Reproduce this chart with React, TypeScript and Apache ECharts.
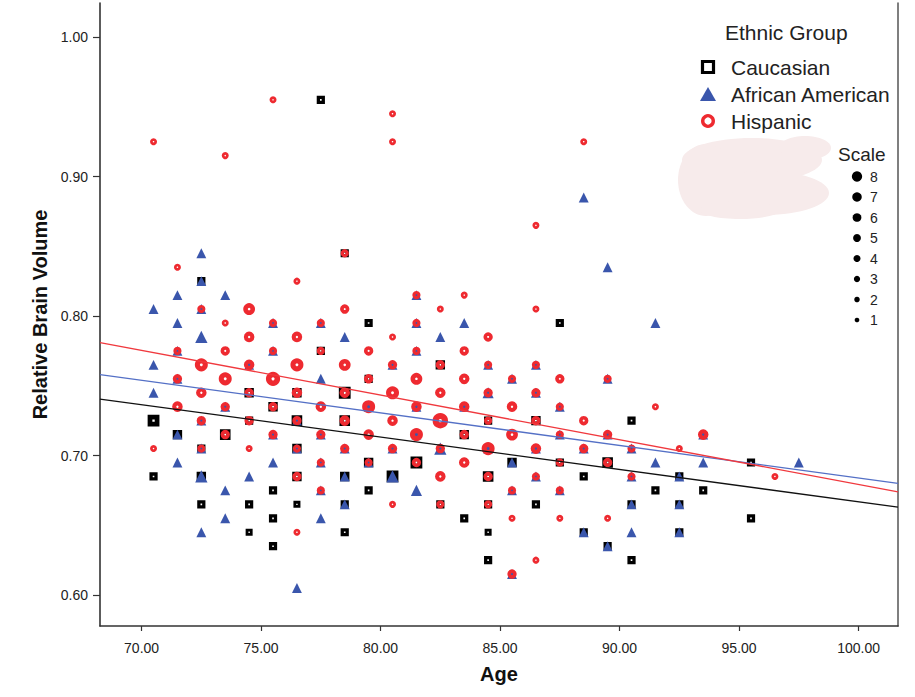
import React, { useEffect, useRef } from "react";
import * as echarts from "echarts";

// ---------- data ----------
const groupNames = ["Caucasian", "African American", "Hispanic"];
const groupColors = ["#000000", "#3A56AC", "#EE2A30"];
const fitColors = ["#111111", "#5470C6", "#F0393E"];

// [age, relative brain volume, scale]
const caucasian: number[][] = [
  [77.5, 0.955, 2], [72.5, 0.825, 2], [78.5, 0.845, 2], [79.5, 0.795, 2], [87.5, 0.795, 2],
  [77.5, 0.775, 2], [82.5, 0.765, 3], [79.5, 0.755, 2], [74.5, 0.745, 3], [76.5, 0.745, 3],
  [78.5, 0.745, 5], [75.5, 0.735, 3], [70.5, 0.725, 5], [74.5, 0.725, 2], [76.5, 0.725, 4],
  [78.5, 0.725, 4], [84.5, 0.725, 2], [86.5, 0.725, 3], [90.5, 0.725, 2], [71.5, 0.715, 3],
  [73.5, 0.715, 4], [83.5, 0.715, 3], [72.5, 0.705, 2], [76.5, 0.705, 3], [79.5, 0.695, 3],
  [81.5, 0.695, 5], [85.5, 0.695, 3], [87.5, 0.695, 2], [89.5, 0.695, 4], [95.5, 0.695, 2],
  [70.5, 0.685, 2], [72.5, 0.685, 3], [76.5, 0.685, 3], [78.5, 0.685, 3], [80.5, 0.685, 5],
  [84.5, 0.685, 4], [88.5, 0.685, 2], [92.5, 0.685, 2], [75.5, 0.675, 2], [79.5, 0.675, 2],
  [91.5, 0.675, 2], [93.5, 0.675, 2], [72.5, 0.665, 2], [74.5, 0.665, 2], [76.5, 0.665, 1],
  [78.5, 0.665, 2], [82.5, 0.665, 2], [84.5, 0.665, 2], [86.5, 0.665, 2], [90.5, 0.665, 2],
  [92.5, 0.665, 2], [75.5, 0.655, 2], [83.5, 0.655, 2], [95.5, 0.655, 2], [74.5, 0.645, 1],
  [78.5, 0.645, 2], [84.5, 0.645, 1], [88.5, 0.645, 2], [92.5, 0.645, 2], [75.5, 0.635, 2],
  [89.5, 0.635, 2], [84.5, 0.625, 2], [90.5, 0.625, 2],
];

const africanAmerican: number[][] = [
  [88.5, 0.885, 3], [72.5, 0.845, 3], [89.5, 0.835, 3], [72.5, 0.825, 3], [71.5, 0.815, 3],
  [73.5, 0.815, 3], [81.5, 0.815, 3], [70.5, 0.805, 3], [72.5, 0.805, 3], [71.5, 0.795, 3],
  [75.5, 0.795, 3], [77.5, 0.795, 3], [81.5, 0.795, 3], [83.5, 0.795, 3], [91.5, 0.795, 3],
  [72.5, 0.785, 5], [78.5, 0.785, 3], [82.5, 0.785, 3], [71.5, 0.775, 3], [75.5, 0.775, 3],
  [81.5, 0.775, 3], [70.5, 0.765, 3], [74.5, 0.765, 3], [80.5, 0.765, 3], [84.5, 0.765, 3],
  [86.5, 0.765, 3], [71.5, 0.755, 3], [77.5, 0.755, 3], [85.5, 0.755, 3], [89.5, 0.755, 3],
  [70.5, 0.745, 3], [84.5, 0.745, 4], [86.5, 0.745, 3], [73.5, 0.735, 3], [79.5, 0.735, 3],
  [81.5, 0.735, 3], [83.5, 0.735, 3], [87.5, 0.735, 3], [72.5, 0.725, 3], [76.5, 0.725, 3],
  [71.5, 0.715, 3], [75.5, 0.715, 3], [77.5, 0.715, 3], [81.5, 0.715, 3], [87.5, 0.715, 3],
  [89.5, 0.715, 3], [93.5, 0.715, 3], [72.5, 0.705, 3], [76.5, 0.705, 3], [78.5, 0.705, 3],
  [80.5, 0.705, 3], [82.5, 0.705, 5], [84.5, 0.705, 3], [86.5, 0.705, 3], [88.5, 0.705, 3],
  [90.5, 0.705, 3], [71.5, 0.695, 3], [75.5, 0.695, 3], [77.5, 0.695, 3], [79.5, 0.695, 3],
  [85.5, 0.695, 3], [91.5, 0.695, 3], [93.5, 0.695, 3], [97.5, 0.695, 3], [72.5, 0.685, 5],
  [74.5, 0.685, 3], [78.5, 0.685, 3], [80.5, 0.685, 5], [86.5, 0.685, 3], [90.5, 0.685, 3],
  [92.5, 0.685, 3], [73.5, 0.675, 3], [77.5, 0.675, 3], [81.5, 0.675, 4], [85.5, 0.675, 3],
  [87.5, 0.675, 3], [78.5, 0.665, 3], [90.5, 0.665, 3], [92.5, 0.665, 3], [73.5, 0.655, 3],
  [77.5, 0.655, 3], [72.5, 0.645, 3], [88.5, 0.645, 3], [90.5, 0.645, 3], [92.5, 0.645, 3],
  [89.5, 0.635, 3], [85.5, 0.615, 3], [76.5, 0.605, 3],
];

const hispanic: number[][] = [
  [70.5, 0.925, 1], [73.5, 0.915, 1], [75.5, 0.955, 1], [80.5, 0.945, 1], [80.5, 0.925, 1],
  [88.5, 0.925, 1], [86.5, 0.865, 1], [71.5, 0.835, 1], [76.5, 0.825, 1], [78.5, 0.845, 2],
  [72.5, 0.805, 2], [74.5, 0.805, 5], [78.5, 0.805, 3], [82.5, 0.805, 1], [83.5, 0.815, 1],
  [86.5, 0.805, 1], [81.5, 0.815, 2], [73.5, 0.795, 1], [75.5, 0.795, 2], [77.5, 0.795, 2],
  [81.5, 0.795, 2], [74.5, 0.785, 4], [76.5, 0.785, 4], [80.5, 0.785, 1], [84.5, 0.785, 3],
  [71.5, 0.775, 2], [73.5, 0.775, 3], [75.5, 0.775, 2], [77.5, 0.775, 2], [79.5, 0.775, 3],
  [81.5, 0.775, 2], [83.5, 0.775, 3], [72.5, 0.765, 6], [74.5, 0.765, 4], [76.5, 0.765, 6],
  [78.5, 0.765, 5], [80.5, 0.765, 3], [82.5, 0.765, 3], [84.5, 0.765, 2], [86.5, 0.765, 2],
  [71.5, 0.755, 3], [73.5, 0.755, 6], [75.5, 0.755, 7], [79.5, 0.755, 3], [81.5, 0.755, 5],
  [83.5, 0.755, 4], [85.5, 0.755, 2], [87.5, 0.755, 3], [89.5, 0.755, 2], [72.5, 0.745, 4],
  [74.5, 0.745, 3], [76.5, 0.745, 4], [78.5, 0.745, 4], [80.5, 0.745, 6], [82.5, 0.745, 4],
  [84.5, 0.745, 3], [86.5, 0.745, 3], [71.5, 0.735, 4], [73.5, 0.735, 3], [75.5, 0.735, 3],
  [77.5, 0.735, 4], [79.5, 0.735, 6], [81.5, 0.735, 4], [83.5, 0.735, 4], [85.5, 0.735, 4],
  [87.5, 0.735, 2], [91.5, 0.735, 1], [72.5, 0.725, 3], [74.5, 0.725, 3], [76.5, 0.725, 3],
  [78.5, 0.725, 4], [80.5, 0.725, 4], [82.5, 0.725, 8], [84.5, 0.725, 2], [86.5, 0.725, 3],
  [88.5, 0.725, 3], [73.5, 0.715, 3], [75.5, 0.715, 3], [77.5, 0.715, 3], [79.5, 0.715, 4],
  [81.5, 0.715, 6], [83.5, 0.715, 3], [85.5, 0.715, 5], [87.5, 0.715, 2], [89.5, 0.715, 3],
  [93.5, 0.715, 4], [70.5, 0.705, 1], [72.5, 0.705, 2], [74.5, 0.705, 1], [76.5, 0.705, 2],
  [78.5, 0.705, 3], [80.5, 0.705, 3], [82.5, 0.705, 3], [84.5, 0.705, 6], [86.5, 0.705, 4],
  [88.5, 0.705, 3], [90.5, 0.705, 2], [92.5, 0.705, 1], [77.5, 0.695, 2], [79.5, 0.695, 2],
  [81.5, 0.695, 3], [83.5, 0.695, 4], [87.5, 0.695, 2], [89.5, 0.695, 3], [76.5, 0.685, 3],
  [82.5, 0.685, 4], [84.5, 0.685, 3], [86.5, 0.685, 2], [90.5, 0.685, 2], [96.5, 0.685, 1],
  [77.5, 0.675, 2], [85.5, 0.675, 2], [87.5, 0.675, 2], [80.5, 0.665, 1], [82.5, 0.665, 2],
  [84.5, 0.665, 2], [85.5, 0.655, 1], [87.5, 0.655, 1], [89.5, 0.655, 1], [76.5, 0.645, 1],
  [86.5, 0.625, 1], [85.5, 0.615, 3],
];

// fit-line endpoints [age, volume]
const caucasianFit: number[][] = [[68.26, 0.7405], [101.65, 0.663]];
const africanAmericanFit: number[][] = [[68.26, 0.758], [101.65, 0.68]];
const hispanicFit: number[][] = [[68.26, 0.781], [101.65, 0.674]];

const xTicks = [70, 75, 80, 85, 90, 95, 100];
const yTicks = [0.6, 0.7, 0.8, 0.9, 1.0];
const scaleLevels = [8, 7, 6, 5, 4, 3, 2, 1];

const X_MIN = 68.26;
const X_MAX = 101.65;
const Y_MIN = 0.5778;
const Y_MAX = 1.0244;

const FONT = "'Liberation Sans', Arial, sans-serif";

// visual marker diameter for a scale level
const markerD = (s: number) => 5.8 + 1.2 * s;

function hollowItems(rows: number[][], color: string, hole: number) {
  return rows.map((r) => {
    const d = markerD(r[2]);
    const h = hole * d;
    return {
      value: r,
      symbolSize: (d + h) / 2,
      itemStyle: { color: "rgba(0,0,0,0)", borderColor: color, borderWidth: (d - h) / 2, opacity: 1 },
    };
  });
}

function filledItems(rows: number[][], color: string) {
  return rows.map((r) => ({
    value: r,
    symbolSize: markerD(r[2]) + 0.5,
    itemStyle: { color, opacity: 1 },
  }));
}

export default function App() {
  const ref = useRef<HTMLDivElement>(null);

  useEffect(() => {
    if (!ref.current) return;
    const chart = echarts.init(ref.current, undefined, { renderer: "svg" });

    const legendX = 708;
    const legendYs = [67, 94, 121];
    const scaleY0 = 176.5;
    const scaleStep = 20.5;
    const blob = "#f7ebeb";

    const graphic: any[] = [
      // redaction blob
      { type: "ellipse", shape: { cx: 752, cy: 160, rx: 70, ry: 22 }, style: { fill: blob }, silent: true },
      { type: "ellipse", shape: { cx: 765, cy: 193, rx: 64, ry: 22 }, style: { fill: blob }, silent: true },
      { type: "ellipse", shape: { cx: 706, cy: 180, rx: 28, ry: 36 }, style: { fill: blob }, silent: true },
      { type: "ellipse", shape: { cx: 805, cy: 148, rx: 26, ry: 12 }, style: { fill: blob }, silent: true },
      { type: "ellipse", shape: { cx: 740, cy: 210, rx: 40, ry: 9 }, style: { fill: blob }, silent: true },
      // Ethnic group legend
      {
        type: "text", x: 725, y: 32,
        style: { text: "Ethnic Group", fontSize: 21, fontFamily: FONT, fill: "#222", verticalAlign: "middle", align: "left" },
      },
      {
        type: "rect", shape: { x: legendX - 5.5, y: legendYs[0] - 5.5, width: 11, height: 11 },
        style: { fill: "none", stroke: groupColors[0], lineWidth: 3.2 },
      },
      {
        type: "polygon",
        shape: { points: [[legendX, legendYs[1] - 7], [legendX + 8, legendYs[1] + 7], [legendX - 8, legendYs[1] + 7]] },
        style: { fill: groupColors[1] },
      },
      {
        type: "circle", shape: { cx: legendX, cy: legendYs[2], r: 5.3 },
        style: { fill: "none", stroke: groupColors[2], lineWidth: 3.4 },
      },
      ...groupNames.map((n, i) => ({
        type: "text", x: 731, y: legendYs[i],
        style: { text: n, fontSize: 21, fontFamily: FONT, fill: "#222", verticalAlign: "middle", align: "left" },
      })),
      // Scale legend
      {
        type: "text", x: 838, y: 154,
        style: { text: "Scale", fontSize: 19, fontFamily: FONT, fill: "#222", verticalAlign: "middle", align: "left" },
      },
      ...scaleLevels.map((s, i) => ({
        type: "circle", shape: { cx: 857, cy: scaleY0 + i * scaleStep, r: (3.9 + 0.8 * s) / 2 },
        style: { fill: "#000" },
      })),
      ...scaleLevels.map((s, i) => ({
        type: "text", x: 870, y: scaleY0 + i * scaleStep,
        style: { text: String(s), fontSize: 14, fontFamily: FONT, fill: "#222", verticalAlign: "middle", align: "left" },
      })),
    ];

    const fitSeries = [caucasianFit, africanAmericanFit, hispanicFit].map((d, i) => ({
      type: "line",
      name: groupNames[i] + " fit",
      data: d,
      symbol: "none",
      silent: true,
      z: 5,
      lineStyle: { color: fitColors[i], width: 1.3 },
    }));

    const option: any = {
      animation: false,
      backgroundColor: "#ffffff",
      textStyle: { fontFamily: FONT },
      grid: { left: 100, right: 17, top: 3, bottom: 71 },
      xAxis: {
        type: "value",
        min: X_MIN,
        max: X_MAX,
        name: "Age",
        nameLocation: "middle",
        nameGap: 38,
        nameTextStyle: { fontSize: 20, fontWeight: "bold", color: "#111", fontFamily: FONT },
        axisLine: { show: true, onZero: false, lineStyle: { color: "#333", width: 1.6 } },
        axisTick: { show: true, customValues: xTicks, length: 5, lineStyle: { color: "#333", width: 1.2 } },
        axisLabel: {
          customValues: xTicks,
          formatter: (v: number) => v.toFixed(2),
          fontSize: 14,
          color: "#222",
          margin: 15,
          fontFamily: FONT,
        },
        splitLine: { show: false },
      },
      yAxis: [
        {
          type: "value",
          min: Y_MIN,
          max: Y_MAX,
          name: "Relative Brain Volume",
          nameLocation: "middle",
          nameGap: 41,
          nameTextStyle: { fontSize: 20, fontWeight: "bold", color: "#111", fontFamily: FONT },
          axisLine: { show: true, onZero: false, lineStyle: { color: "#333", width: 1.6 } },
          axisTick: { show: true, customValues: yTicks, length: 7, lineStyle: { color: "#333", width: 1.2 } },
          axisLabel: {
            customValues: yTicks,
            formatter: (v: number) => v.toFixed(2),
            fontSize: 14,
            color: "#222",
            margin: 12,
            fontFamily: FONT,
          },
          splitLine: { show: false },
        },
        {
          type: "value",
          min: Y_MIN,
          max: Y_MAX,
          position: "right",
          axisLine: { show: true, onZero: false, lineStyle: { color: "#555", width: 1.5 } },
          axisTick: { show: false },
          axisLabel: { show: false },
          splitLine: { show: false },
        },
      ],
      graphic,
      series: [
        {
          type: "scatter",
          name: groupNames[0],
          symbol: "rect",
          data: hollowItems(caucasian, groupColors[0], 0.2),
          z: 2,
          emphasis: { disabled: true },
        },
        {
          type: "scatter",
          name: groupNames[1],
          symbol: "triangle",
          data: filledItems(africanAmerican, groupColors[1]),
          z: 2,
          emphasis: { disabled: true },
        },
        {
          type: "scatter",
          name: groupNames[2],
          symbol: "circle",
          data: hollowItems(hispanic, groupColors[2], 0.22),
          z: 2,
          emphasis: { disabled: true },
        },
        ...fitSeries,
      ],
    };

    chart.setOption(option);
    return () => chart.dispose();
  }, []);

  return (
    <div
      ref={ref}
      style={{ position: "fixed", left: 0, top: 0, width: 915, height: 697, background: "#fff" }}
    />
  );
}
